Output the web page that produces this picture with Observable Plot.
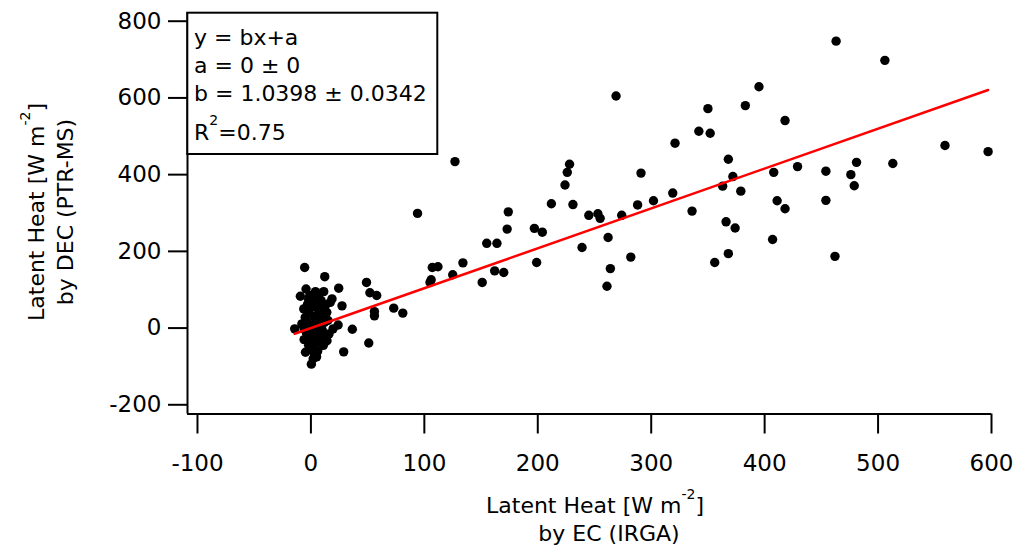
<!DOCTYPE html>
<html><head><meta charset="utf-8">
<script src="https://cdn.jsdelivr.net/npm/d3@7"></script>
<script src="https://cdn.jsdelivr.net/npm/@observablehq/plot@0.6"></script>
<style>
html,body{margin:0;padding:0;background:#fff;}
</style></head><body><div id="chart"></div>
<script>
// Latent heat by EC (IRGA), W m-2
const ecIRGA = [
  463, 506, 269, 395, 383, 350, 342, 352, 418, 321, 368, 291, 372, 363, 379, 408, 429, 454, 476, 481,
  479, 513, 559, 597, 411, 418, 454, 407, 462, 366, 374, 368, 356, 336, 319, 302, 288, 274, 262, 282,
  264, 261, 127, 94, 228, 226, 224, 212, 231, 174, 173, 197, 204, 245, 253, 255, 155, 164, 134, 107,
  112, 125, 106, 105, 151, 162, 170, 199, 239,
  49, 52, 58, 56, 56, 73, 81, 51,
  -5.5, 12.2, 24.5, -4.3, 4, 11.3, 18.6, -9.3, 27.4, -6.3, -14.3, 19.5, 8.4, 36.5, 24, 14.2, 28.9, -4.8, 2.5, 0.4,
  0, 5, 8, -2, 3, 10, 14, 6, -3, 1, 8, 12, -8, -5, 4, 9, 0, 6, -2, 3,
  10, 15, -1, 7, 2, 13, 17, -3, 5, 1, 11, -6, 7, 2, 16, -4,
  -2, 3, 9, -4, 5, -1, 8, 12, 4, -6, 2, 6
];
// Latent heat by DEC (PTR-MS), W m-2
const decPTRMS = [
  748, 698, 605, 629, 580, 572, 513, 508, 541, 482, 440, 404, 395, 370, 357, 406, 421, 409, 400, 432,
  371, 429, 476, 460, 332, 311, 333, 231, 187, 277, 261, 194, 171, 305, 352, 332, 321, 294, 236, 185,
  155, 109, 434, 299, 427, 406, 373, 324, 322, 303, 258, 260, 250, 294, 298, 286, 221, 221, 170, 158,
  160, 139, 126, 119, 119, 149, 145, 171, 210,
  119, 92, 85, 43, 32, 52, 39, -39,
  158, 134, 104, 102, 95, 95, 76, 83, 58, 50, -2, -2, 50, -3, 8, -33, -62, -63, -63, -94,
  70, 75, 62, 40, 30, 35, 41, 20, 15, 5, 8, 15, 11, 28, -10, -18, -25, -35, -45, -50,
  -5, 20, 85, 88, 55, 60, 67, 62, -75, -40, -45, -30, 45, -5, -15, -12,
  75, 80, 72, 5, -20, -55, -28, -25, 12, -2, -80, -60
];
const xTicks = [-100, 0, 100, 200, 300, 400, 500, 600];
const yTicks = [-200, 0, 200, 400, 600, 800];
const xDomain = [-108.8, 600];
const yDomain = [-224, 822.7];
const fitA = 0, fitB = 1.0398;
const legendLines = ["y = bx+a", "a = 0 ± 0", "b = 1.0398 ± 0.0342"];
const legendR2 = ["R", "2", "=0.75"];
const xTitle = ["Latent Heat [W m", "-2", "]", "by EC (IRGA)"];
const yTitle = ["Latent Heat [W m", "-2", "]", "by DEC (PTR-MS)"];

const points = ecIRGA.map((x, i) => ({x, y: decPTRMS[i]}));
const [xmin, xmax] = d3.extent(ecIRGA);
const fitLine = [xmin, xmax].map(x => ({x, y: fitB * x + fitA}));

const FONT = "DejaVu Sans";
const fmt = d => `${d}`;
const chart = Plot.plot({
  width: 1015, height: 548,
  marginLeft: 187, marginRight: 24, marginTop: 12, marginBottom: 134.5,
  style: {fontFamily: FONT, fontSize: "22px", color: "#000", background: "#fff"},
  x: {domain: xDomain},
  y: {domain: yDomain},
  marks: [
    Plot.ruleY([yDomain[0]], {strokeWidth: 2}),
    Plot.ruleX([xDomain[0]], {strokeWidth: 2}),
    Plot.axisX(xTicks, {tickSize: 20, tickPadding: 21, strokeWidth: 2, label: null, fontSize: 23, tickFormat: fmt}),
    Plot.axisY(yTicks, {tickSize: 19, tickPadding: 7, strokeWidth: 2, label: null, fontSize: 23, tickFormat: fmt}),
    Plot.dot(points, {x: "x", y: "y", r: 4.7, fill: "#000", stroke: null}),
    Plot.line(fitLine, {x: "x", y: "y", stroke: "#ff0000", strokeWidth: 2.5})
  ]
});
document.getElementById("chart").appendChild(chart);

const svg = d3.select(chart);
const g = svg.append("g").attr("font-family", FONT).attr("font-size", 22).attr("fill", "#000")
  .attr("text-anchor", "start");

// legend box
g.append("rect").attr("x", 187.3).attr("y", 12.7).attr("width", 250).attr("height", 141.3)
  .attr("fill", "#fff").attr("stroke", "#000").attr("stroke-width", 2);
const baselines = [44.5, 72.7, 100.7];
legendLines.forEach((t, i) => g.append("text").attr("x", 194).attr("y", baselines[i]).attr("text-anchor", "start").text(t));
const r2 = g.append("text").attr("x", 194).attr("y", 140).attr("text-anchor", "start");
r2.append("tspan").text(legendR2[0]);
r2.append("tspan").attr("dy", -15).attr("font-size", 14).text(legendR2[1]);
r2.append("tspan").attr("dy", 15).text(legendR2[2]);

// x title
const xt1 = g.append("text").attr("x", 595).attr("y", 513).attr("text-anchor", "middle");
xt1.append("tspan").text(xTitle[0]);
xt1.append("tspan").attr("dy", -14).attr("font-size", 14).text(xTitle[1]);
xt1.append("tspan").attr("dy", 14).text(xTitle[2]);
g.append("text").attr("x", 609).attr("y", 541).attr("text-anchor", "middle").text(xTitle[3]);

// y title
const yt1 = g.append("text").attr("transform", "translate(44,212) rotate(-90)").attr("text-anchor", "middle");
yt1.append("tspan").text(yTitle[0]);
yt1.append("tspan").attr("dy", -14).attr("font-size", 14).text(yTitle[1]);
yt1.append("tspan").attr("dy", 14).text(yTitle[2]);
g.append("text").attr("transform", "translate(73,212) rotate(-90)").attr("text-anchor", "middle").text(yTitle[3]);
</script>
</body></html>
